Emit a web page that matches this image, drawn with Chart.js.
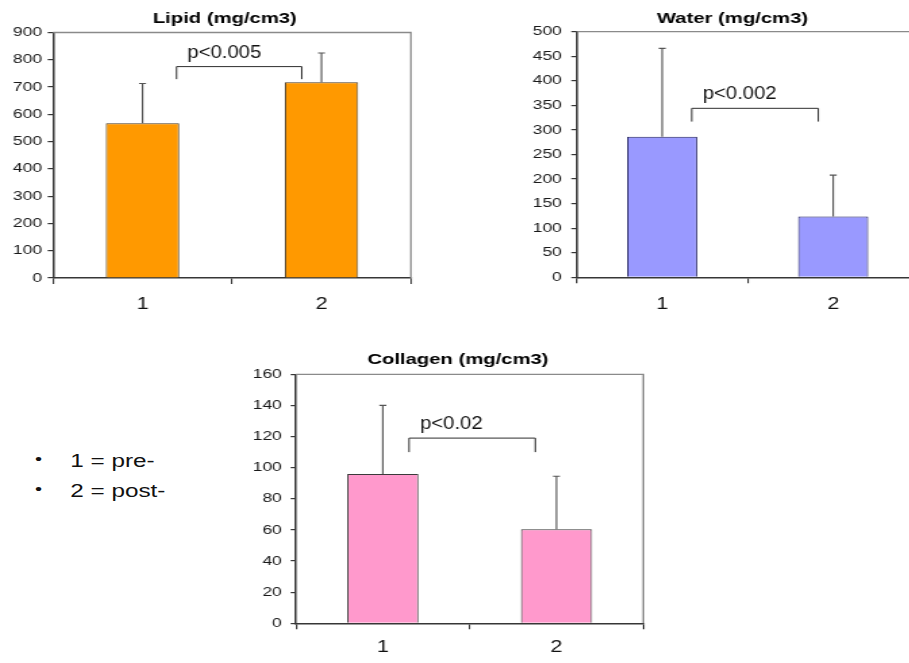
<!DOCTYPE html>
<html>
<head>
<meta charset="utf-8">
<script src="https://cdn.jsdelivr.net/npm/chart.js@4.4.1/dist/chart.umd.min.js"></script>
<style>
  html, body { margin: 0; padding: 0; background: #fff; }
  body { position: relative; width: 909px; height: 663px; overflow: hidden; }
  /* the slide is laid out 1.35x wider than its drawing surfaces */
  .panel { position: absolute; transform-origin: 0 0; transform: scaleX(1.35); }
  .panel canvas { display: block; }
  #key { position: absolute; left: 0; top: 446px; transform-origin: 0 0; transform: scaleX(1.35);
         font-family: "Liberation Sans", Arial, sans-serif; font-size: 18px; line-height: 30px; color: #111; }
  #key .row { position: relative; padding-left: 52px; white-space: nowrap; }
  #key .dot { position: absolute; left: 26px; top: -2px; font-size: 15px; }
</style>
</head>
<body>
<div class="panel" style="left:0px;top:0px"><canvas id="lipid" width="333" height="320"></canvas></div>
<div class="panel" style="left:530px;top:0px"><canvas id="water" width="300" height="320"></canvas></div>
<div class="panel" style="left:250px;top:340px"><canvas id="collagen" width="308" height="323"></canvas></div>
<div id="key">
  <div class="row"><span class="dot">•</span>1 = pre-</div>
  <div class="row"><span class="dot">•</span>2 = post-</div>
</div>
<script>
// groups: 1 = pre-, 2 = post-
const groups = ['1', '2'];

// Lipid (mg/cm3)
const lipidMean = [567, 718];
const lipidSD = [146, 107];
const lipidAxis = { max: 900, step: 100 };
const lipidP = 'p<0.005';
const lipidBracket = [0.19, 0.89, 775, 729];   // from, to (category units), top, foot (mg/cm3)

// Water (mg/cm3)
const waterMean = [286, 124];
const waterSD = [180, 84];
const waterAxis = { max: 500, step: 50 };
const waterP = 'p<0.002';
const waterBracket = [0.173, 0.913, 344, 317];

// Collagen (mg/cm3)
const collagenMean = [96, 60.5];
const collagenSD = [44, 34];
const collagenAxis = { max: 160, step: 20 };
const collagenP = 'p<0.02';
const collagenBracket = [0.151, 0.878, 119, 110];

const FONT = '"Liberation Sans", Arial, sans-serif';
const AXIS = '#363636';

// title, plot frame, upper error arms and the significance bracket
const decor = {
  id: 'decor',
  afterDraw(chart, args, o) {
    const { ctx, chartArea: a, scales: { x, y } } = chart;
    ctx.save();

    // top and right edges of the plot frame
    ctx.strokeStyle = '#8a8a8a';
    ctx.lineWidth = 1.3;
    ctx.beginPath();
    ctx.moveTo(a.left, a.top);
    ctx.lineTo(a.right, a.top);
    ctx.lineTo(a.right, a.bottom);
    ctx.stroke();

    // error bars: upper arm with a short cap
    const meta = chart.getDatasetMeta(0);
    const mean = chart.data.datasets[0].data;
    ctx.strokeStyle = '#555';
    ctx.lineWidth = 1.15;
    meta.data.forEach((bar, i) => {
      const yTop = y.getPixelForValue(mean[i] + o.sd[i]);
      ctx.beginPath();
      ctx.moveTo(bar.x, bar.y);
      ctx.lineTo(bar.x, yTop);
      ctx.moveTo(bar.x - 2.6, yTop);
      ctx.lineTo(bar.x + 2.6, yTop);
      ctx.stroke();
    });

    // significance bracket and its label
    const b = o.bracket;
    const x0 = x.getPixelForValue(b[0]);
    const x1 = x.getPixelForValue(b[1]);
    const yt = y.getPixelForValue(b[2]);
    const yf = y.getPixelForValue(b[3]);
    ctx.strokeStyle = '#2e2e2e';
    ctx.lineWidth = 1;
    ctx.beginPath();
    ctx.moveTo(x0, yf);
    ctx.lineTo(x0, yt);
    ctx.lineTo(x1, yt);
    ctx.lineTo(x1, yf);
    ctx.stroke();

    ctx.fillStyle = '#111';
    ctx.font = '19px ' + FONT;
    ctx.textAlign = 'left';
    ctx.textBaseline = 'alphabetic';
    ctx.translate(x0 + 8.1, yt - 9);
    ctx.scale(0.79, 1);
    ctx.fillText(o.label, 0, 0);
    ctx.restore();

    // chart title
    ctx.save();
    ctx.fillStyle = '#000';
    ctx.font = 'bold 15px ' + FONT;
    ctx.textAlign = 'center';
    ctx.textBaseline = 'middle';
    ctx.fillText(o.title, chart.width / 2, o.titleY);
    ctx.restore();
  }
};

function panel(id, s) {
  return new Chart(document.getElementById(id), {
    type: 'bar',
    data: {
      labels: groups,
      datasets: [{
        data: s.mean,
        backgroundColor: s.fill,
        borderColor: s.edge,
        borderWidth: 1,
        barPercentage: 1,
        categoryPercentage: 0.41
      }]
    },
    options: {
      responsive: false,
      animation: false,
      events: [],
      layout: { padding: { left: 0, right: s.padRight, top: s.padTop, bottom: 0 } },
      plugins: {
        legend: { display: false },
        tooltip: { enabled: false },
        title: { display: false },
        decor: { sd: s.sd, bracket: s.bracket, label: s.label, title: s.title, titleY: s.titleY }
      },
      scales: {
        x: {
          z: 1,
          grid: { offset: true, drawOnChartArea: false, drawTicks: true, tickLength: 6, color: AXIS, lineWidth: 1.1 },
          border: { display: true, color: AXIS, width: 1.6 },
          ticks: { color: '#111', font: { family: FONT, size: 16 }, padding: s.xPad, maxRotation: 0 },
          afterFit: (sc) => { sc.height = s.xH; }
        },
        y: {
          z: 1,
          min: 0,
          max: s.axis.max,
          ticks: { stepSize: s.axis.step, color: '#1a1a1a', font: { family: FONT, size: 13 }, padding: s.yPad },
          grid: { drawOnChartArea: false, drawTicks: true, tickLength: 4, color: AXIS, lineWidth: 1.2 },
          border: { display: true, color: AXIS, width: 1.5 },
          afterFit: (sc) => { sc.width = s.yW; }
        }
      }
    },
    plugins: [decor]
  });
}

panel('lipid', {
  mean: lipidMean, sd: lipidSD, axis: lipidAxis, label: lipidP, bracket: lipidBracket,
  title: 'Lipid (mg/cm3)', fill: '#FF9900', edge: '#4a3a22',
  yW: 39.3, padRight: 28.6, padTop: 32.5, titleY: 18.5, xH: 42, xPad: 11.4, yPad: 4
});

panel('water', {
  mean: waterMean, sd: waterSD, axis: waterAxis, label: waterP, bracket: waterBracket,
  title: 'Water (mg/cm3)', fill: '#9999FF', edge: '#1f1f5c',
  yW: 34.6, padRight: 12.1, padTop: 31.7, titleY: 18.5, xH: 42.7, xPad: 12.1, yPad: 7
});

panel('collagen', {
  mean: collagenMean, sd: collagenSD, axis: collagenAxis, label: collagenP, bracket: collagenBracket,
  title: 'Collagen (mg/cm3)', fill: '#FF99CC', edge: '#3a3a3a',
  yW: 34.1, padRight: 16.7, padTop: 34.3, titleY: 20, xH: 39.7, xPad: 9.1, yPad: 6.5
});
</script>
</body>
</html>
